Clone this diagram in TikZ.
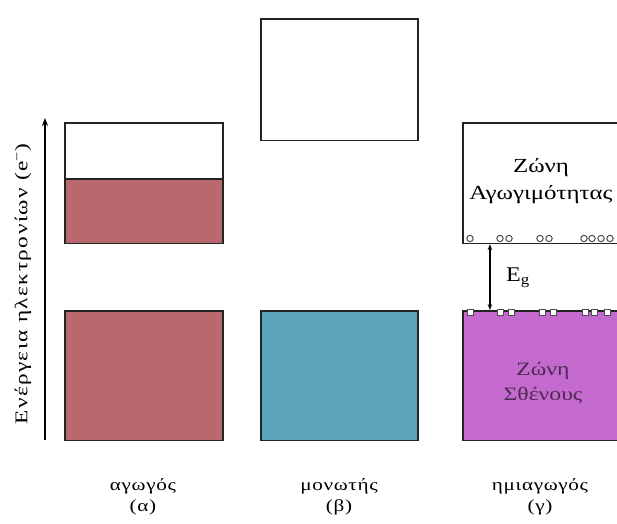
\documentclass[tikz,border=0pt]{standalone}
\usepackage{fontspec}
\setmainfont{Liberation Serif}
\usetikzlibrary{arrows.meta}

\definecolor{metal}{RGB}{186,104,112}
\definecolor{insul}{RGB}{92,164,184}
\definecolor{semi}{RGB}{196,106,206}
\definecolor{edge}{RGB}{35,35,35}

\begin{document}
\begin{tikzpicture}
  [x=1bp,y=-1bp,
   band/.style={draw=edge,line width=1.6bp,anchor=north west,inner sep=0pt},
   lbl/.style={font=\fontsize{17}{21}\selectfont\addfontfeatures{FakeStretch=1.25,LetterSpace=4},align=center},
   big/.style={font=\fontsize{20}{27}\selectfont\addfontfeatures{FakeStretch=1.25},align=center},
   hole/.style={draw=black!70,fill=white,line width=1bp}]
  \useasboundingbox (0,0) rectangle (617,524);
  \clip (0,0) rectangle (617,524);

  % energy axis
  \coordinate (e0) at (45,440);
  \coordinate (e1) at (45,118);
  \draw[line width=1.4bp,-{Stealth[length=8bp,width=6bp]}] (e0) -- (e1);
  \node[font=\fontsize{18}{20}\selectfont\addfontfeatures{FakeStretch=1.3,LetterSpace=8},rotate=90] (axis) at (23,284)
    {Ενέργεια ηλεκτρονίων (e\textsuperscript{−})};

  % conductor
  \node[band,minimum width=159,minimum height=121] (ca) at (64,122) {};
  \node[band,fill=metal,minimum width=159,minimum height=65] (fa) at (64,178) {};
  \node[band,fill=metal,minimum width=159,minimum height=130] (va) at (64,310) {};

  % insulator
  \node[band,minimum width=158,minimum height=122] (cb) at (260,18) {};
  \node[band,fill=insul,minimum width=158,minimum height=130] (vb) at (260,310) {};

  % semiconductor
  \node[band,minimum width=168,minimum height=121] (cc) at (462,122) {};
  \node[band,fill=semi,minimum width=168,minimum height=130] (vc) at (462,310) {};
  \node[big] (tc) at (541,181) {Ζώνη\\Αγωγιμότητας};
  \node[big,font=\fontsize{19}{25}\selectfont\addfontfeatures{FakeStretch=1.25},text=semi!40!black] (tv) at (543,383) {Ζώνη\\Σθένους};

  \foreach \x in {470,500,509,540,549,584,592,601,610}
    \draw[hole] (\x,238.5) circle (3.2);
  \foreach \x in {470,500,511,542,553,585,594,607}
    \draw[hole] (\x-3,309) rectangle (\x+3,315);

  \draw[line width=1.8bp,{Stealth[length=6bp]}-{Stealth[length=6bp]}]
    ([xshift=28]cc.south west) -- ([xshift=28]vc.north west);
  \node[font=\fontsize{21}{24}\selectfont\addfontfeatures{FakeStretch=1.15}] (eg) at (518,278) {E\textsubscript{g}};

  % labels under the bands
  \node[lbl] (la) at (143,497) {αγωγός\\(α)};
  \node[lbl] (lb) at (339,497) {μονωτής\\(β)};
  \node[lbl] (lc) at (540,497) {ημιαγωγός\\(γ)};
\end{tikzpicture}
\end{document}
